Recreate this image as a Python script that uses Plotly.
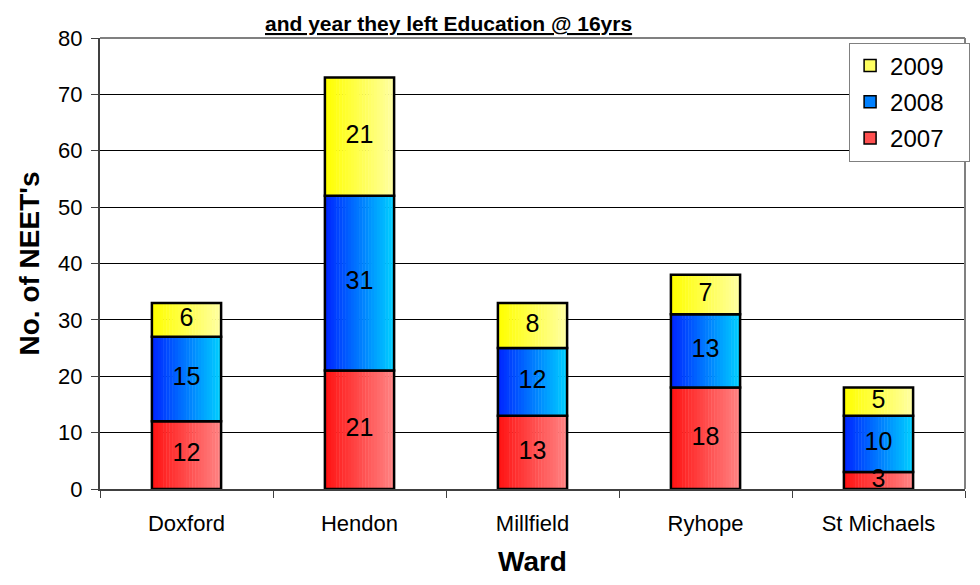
import plotly.graph_objects as go

wards = ["Doxford", "Hendon", "Millfield", "Ryhope", "St Michaels"]
years = ["2007", "2008", "2009"]
neet_2007 = [12, 21, 13, 18, 3]
neet_2008 = [15, 31, 12, 13, 10]
neet_2009 = [6, 21, 8, 7, 5]

series = [neet_2007, neet_2008, neet_2009]
# gradient end colours (left -> right) for each year
grad = [((255, 20, 20), (255, 130, 130)),
        ((0, 40, 255), (0, 205, 255)),
        ((255, 255, 0), (255, 255, 160))]
legend_col = ["#ff5050", "#0080ff", "#ffff60"]

BAR_W = 0.4
N = 24
FONT = "Liberation Sans, Arial"

fig = go.Figure()

base = [0] * len(wards)
for vals, (c0, c1) in zip(series, grad):
    # horizontal gradient built from thin slices of each bar
    for i in range(N):
        t = i / (N - 1)
        col = "rgb(%d,%d,%d)" % tuple(round(a + (b - a) * t) for a, b in zip(c0, c1))
        fig.add_trace(go.Bar(
            x=wards, y=vals, base=base,
            width=BAR_W / N * 1.15, offset=-BAR_W / 2 + i * BAR_W / N,
            marker=dict(color=col, line=dict(width=0)),
            showlegend=False, hoverinfo="skip"))
    fig.add_trace(go.Bar(
        x=wards, y=vals, base=base, width=BAR_W, offset=-BAR_W / 2,
        marker=dict(color="rgba(0,0,0,0)", line=dict(color="black", width=2.5)),
        showlegend=False, hoverinfo="skip"))
    fig.add_trace(go.Scatter(
        x=wards, y=[b + v / 2 for b, v in zip(base, vals)],
        mode="text", text=[str(v) for v in vals],
        textfont=dict(family=FONT, size=25, color="black"),
        showlegend=False, cliponaxis=False, hoverinfo="skip"))
    base = [b + v for b, v in zip(base, vals)]

# legend entries, 2009 on top
for k in [2, 1, 0]:
    fig.add_trace(go.Bar(
        x=[None], y=[None], name=years[k] + "\u00a0\u00a0\u00a0", legendgroup=years[k],
        marker=dict(color=legend_col[k], line=dict(color="black", width=1.5))))

fig.update_layout(
    width=964, height=569,
    barmode="overlay",
    paper_bgcolor="white", plot_bgcolor="white",
    margin=dict(l=92, r=2, t=30, b=88),
    font=dict(family=FONT, size=22, color="black"),
    showlegend=True,
    legend=dict(x=0.866, y=0.99, xanchor="left", yanchor="top",
                bgcolor="white", bordercolor="#808080", borderwidth=1,
                font=dict(size=24), traceorder="grouped",
                tracegroupgap=2, itemwidth=30),
    xaxis=dict(
        showline=True, linecolor="#404040", linewidth=2,
        ticks="outside", tickson="boundaries", ticklen=7, tickcolor="#404040",
        tickfont=dict(size=22), ticklabelstandoff=14,
        title=dict(text="<b>Ward</b>", font=dict(size=28), standoff=16),
        showgrid=False),
    yaxis=dict(
        range=[0, 80], dtick=10,
        showline=True, linecolor="#404040", linewidth=2,
        ticks="outside", ticklen=7, tickcolor="#404040",
        tickfont=dict(size=22), ticklabelstandoff=4,
        showgrid=True, gridcolor="black", gridwidth=1,
        title=dict(text="<b>No. of NEET's</b>", font=dict(size=28), standoff=10),
        zeroline=False),
    shapes=[
        dict(type="line", xref="paper", yref="paper", x0=0, x1=1, y0=1, y1=1,
             line=dict(color="#808080", width=2)),
        dict(type="line", xref="paper", yref="paper", x0=1, x1=1, y0=0, y1=1,
             line=dict(color="#808080", width=2)),
    ],
    annotations=[
        dict(text="<b><u>and year they left Education @ 16yrs</u></b>",
             xref="paper", yref="paper", x=0.403, y=1.0,
             xanchor="center", yanchor="bottom", yshift=1, showarrow=False,
             font=dict(size=21, color="black")),
    ],
)

fig.write_html("out.html")
